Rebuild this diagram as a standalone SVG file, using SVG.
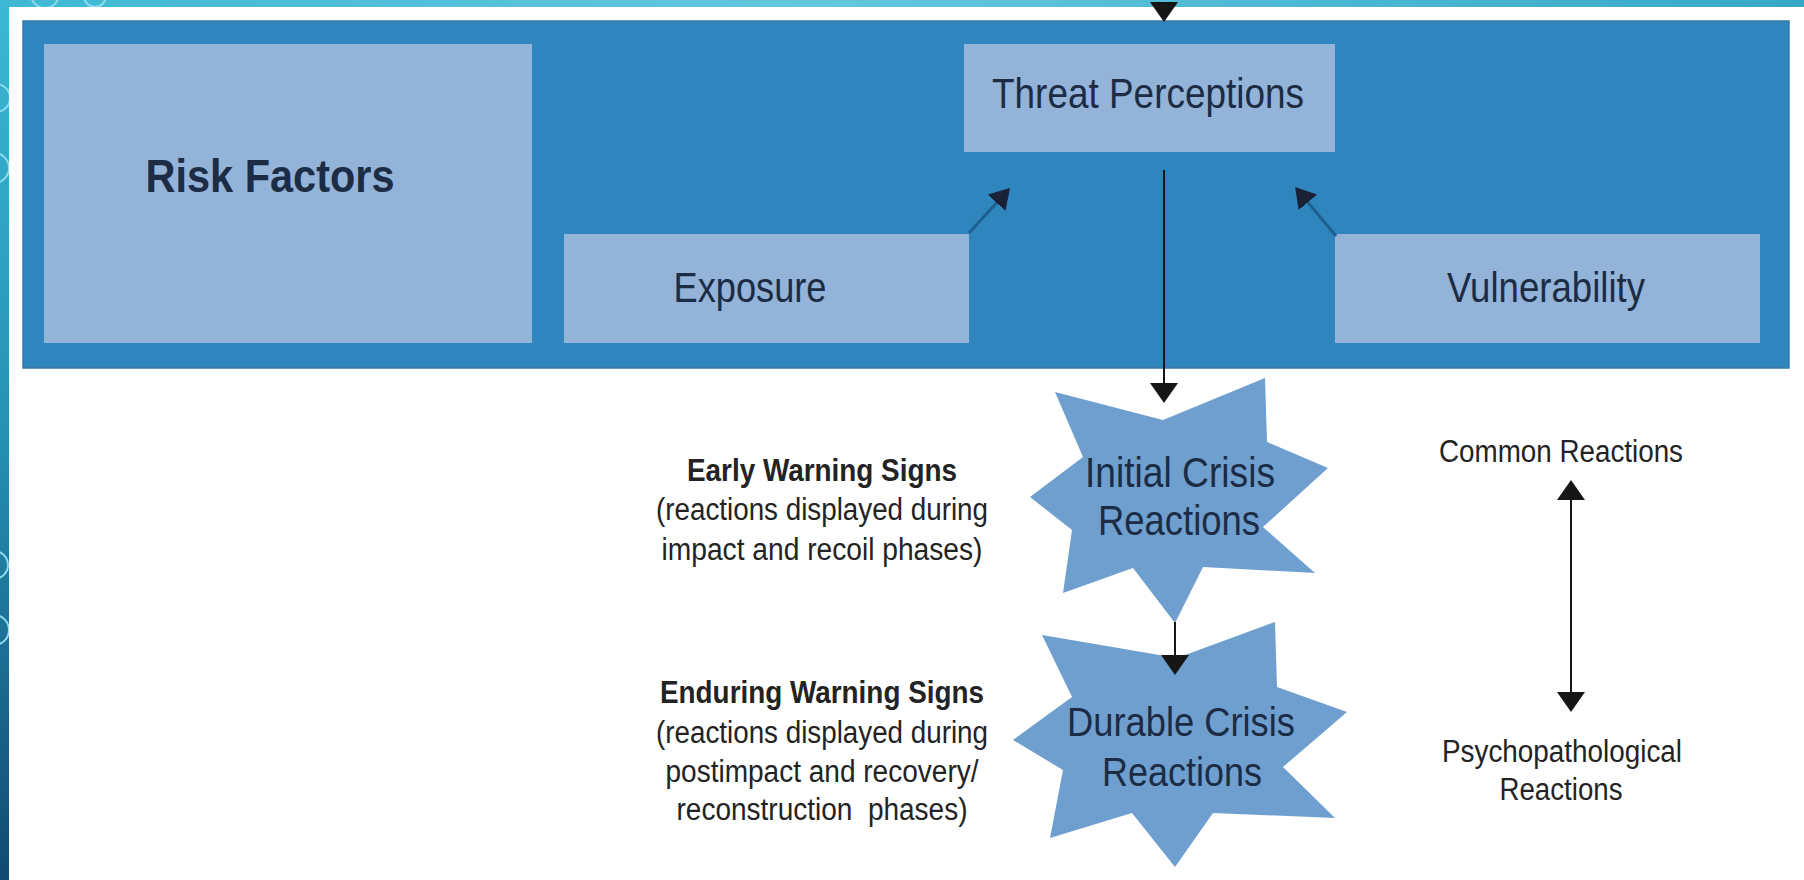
<svg xmlns="http://www.w3.org/2000/svg" width="1804" height="880" viewBox="0 0 1804 880">
  <defs>
    <linearGradient id="topBand" x1="0" y1="0" x2="1" y2="0">
      <stop offset="0" stop-color="#3fb8d4"/>
      <stop offset="0.45" stop-color="#64c8de"/>
      <stop offset="1" stop-color="#36a9c8"/>
    </linearGradient>
    <linearGradient id="sideBar" x1="0" y1="0" x2="0" y2="1">
      <stop offset="0" stop-color="#3cb8d4"/>
      <stop offset="0.5" stop-color="#2590b4"/>
      <stop offset="1" stop-color="#114a72"/>
    </linearGradient>
    <clipPath id="frameClip">
      <rect x="0" y="0" width="1804" height="7"/>
      <rect x="0" y="0" width="9" height="880"/>
    </clipPath>
    <marker id="ah" viewBox="0 0 20 28" refX="14" refY="14" markerWidth="20" markerHeight="28" markerUnits="userSpaceOnUse" orient="auto-start-reverse">
      <path d="M0,0 L20,14 L0,28 z" fill="#161616"/>
    </marker>
    <marker id="ahs" viewBox="0 0 20 24" refX="14" refY="12" markerWidth="20" markerHeight="24" markerUnits="userSpaceOnUse" orient="auto">
      <path d="M0,0 L20,12 L0,24 z" fill="#1b2238"/>
    </marker>
    <style>
      .band { fill: #2f86bf; stroke: #3a78a4; stroke-width: 1.5; }
      .box { fill: #93b3d8; }
      .star { fill: #6f9fcf; }
      .lbl { font-family: "Liberation Sans", Arial, sans-serif; fill: #1c2c44; text-anchor: middle; }
      .big { font-size: 42px; }
      .side { font-family: "Liberation Sans", Arial, sans-serif; fill: #232323; text-anchor: middle; font-size: 31px; }
      .bold { font-weight: bold; }
      .conn { stroke: #161616; stroke-width: 2; fill: none; }
      .diag { stroke: #1f5f8f; stroke-width: 3; fill: none; }
      .deco { fill: none; stroke: #8fdcee; stroke-width: 2; }
    </style>
  </defs>

  <!-- page background and slide frame -->
  <rect x="0" y="0" width="1804" height="880" fill="#ffffff"/>
  <rect x="0" y="0" width="1804" height="7" fill="url(#topBand)"/>
  <rect x="0" y="0" width="9" height="880" fill="url(#sideBar)"/>
  <g clip-path="url(#frameClip)">
    <circle class="deco" cx="45" cy="-6" r="14"/>
    <circle class="deco" cx="95" cy="-4" r="11"/>
    <circle class="deco" cx="-4" cy="98" r="14"/>
    <circle class="deco" cx="-6" cy="168" r="15"/>
    <circle class="deco" cx="-6" cy="565" r="14"/>
    <circle class="deco" cx="-6" cy="630" r="15"/>
  </g>

  <!-- risk factor band -->
  <rect id="band" class="band" x="23" y="21" width="1766" height="347"/>

  <g id="risk-factors">
    <rect class="box" x="44" y="44" width="488" height="299"/>
    <text class="lbl bold" x="270" y="192" font-size="47" textLength="249" lengthAdjust="spacingAndGlyphs">Risk Factors</text>
  </g>

  <g id="threat-perceptions">
    <rect class="box" x="964" y="44" width="371" height="108"/>
    <text class="lbl big" x="1148" y="108" textLength="312" lengthAdjust="spacingAndGlyphs">Threat Perceptions</text>
  </g>

  <g id="exposure">
    <rect class="box" x="564" y="234" width="405" height="109"/>
    <text class="lbl big" x="750" y="302" textLength="153" lengthAdjust="spacingAndGlyphs">Exposure</text>
  </g>

  <g id="vulnerability">
    <rect class="box" x="1335" y="234" width="425" height="109"/>
    <text class="lbl big" x="1546" y="302" textLength="198" lengthAdjust="spacingAndGlyphs">Vulnerability</text>
  </g>

  <!-- crisis reaction stars -->
  <g id="initial-crisis">
    <polygon class="star" points="1265,378 1163,420 1055,392 1083,457 1030,497 1072,530 1063,593 1133,568 1175,623 1203,567 1315,573 1263,527 1328,468 1267,442"/>
    <text class="lbl" x="1180" y="487" font-size="42" textLength="190" lengthAdjust="spacingAndGlyphs">Initial Crisis</text>
    <text class="lbl" x="1179" y="535" font-size="42" textLength="162" lengthAdjust="spacingAndGlyphs">Reactions</text>
  </g>

  <g id="durable-crisis">
    <polygon class="star" points="1275,622 1177,658 1042,635 1072,697 1013,740 1063,770 1050,838 1132,813 1175,867 1213,813 1335,818 1283,767 1347,712 1277,687"/>
    <text class="lbl" x="1181" y="736" font-size="41" textLength="228" lengthAdjust="spacingAndGlyphs">Durable Crisis</text>
    <text class="lbl" x="1182" y="786" font-size="41" textLength="160" lengthAdjust="spacingAndGlyphs">Reactions</text>
  </g>

  <!-- warning sign captions -->
  <g id="early-warning">
    <text class="side bold" x="822" y="481" textLength="270" lengthAdjust="spacingAndGlyphs">Early Warning Signs</text>
    <text class="side" x="822" y="520" textLength="332" lengthAdjust="spacingAndGlyphs">(reactions displayed during</text>
    <text class="side" x="822" y="560" textLength="321" lengthAdjust="spacingAndGlyphs">impact and recoil phases)</text>
  </g>

  <g id="enduring-warning">
    <text class="side bold" x="822" y="703" textLength="324" lengthAdjust="spacingAndGlyphs">Enduring Warning Signs</text>
    <text class="side" x="822" y="743" textLength="332" lengthAdjust="spacingAndGlyphs">(reactions displayed during</text>
    <text class="side" x="822" y="782" textLength="313" lengthAdjust="spacingAndGlyphs">postimpact and recovery/</text>
    <text class="side" x="822" y="820" textLength="291" lengthAdjust="spacingAndGlyphs" xml:space="preserve">reconstruction  phases)</text>
  </g>

  <!-- reaction spectrum -->
  <g id="common-reactions">
    <text class="side" x="1561" y="462" font-size="33" textLength="244" lengthAdjust="spacingAndGlyphs">Common Reactions</text>
  </g>
  <g id="psychopathological-reactions">
    <text class="side" x="1562" y="762" font-size="33" textLength="240" lengthAdjust="spacingAndGlyphs">Psychopathological</text>
    <text class="side" x="1561" y="800" font-size="33" textLength="123" lengthAdjust="spacingAndGlyphs">Reactions</text>
  </g>

  <!-- connectors -->
  <g id="connectors">
    <line class="conn" x1="1164" y1="7" x2="1164" y2="16" marker-end="url(#ah)"/>
    <line class="conn" x1="1164" y1="170" x2="1164" y2="397" marker-end="url(#ah)"/>
    <line class="conn" x1="1175" y1="622" x2="1175" y2="669" marker-end="url(#ah)"/>
    <line class="diag" x1="969" y1="233" x2="1006" y2="192.4" marker-end="url(#ahs)"/>
    <line class="diag" x1="1336" y1="236" x2="1298.9" y2="191.6" marker-end="url(#ahs)"/>
    <line class="conn" x1="1571" y1="486" x2="1571" y2="706" marker-start="url(#ah)" marker-end="url(#ah)"/>
  </g>
</svg>
